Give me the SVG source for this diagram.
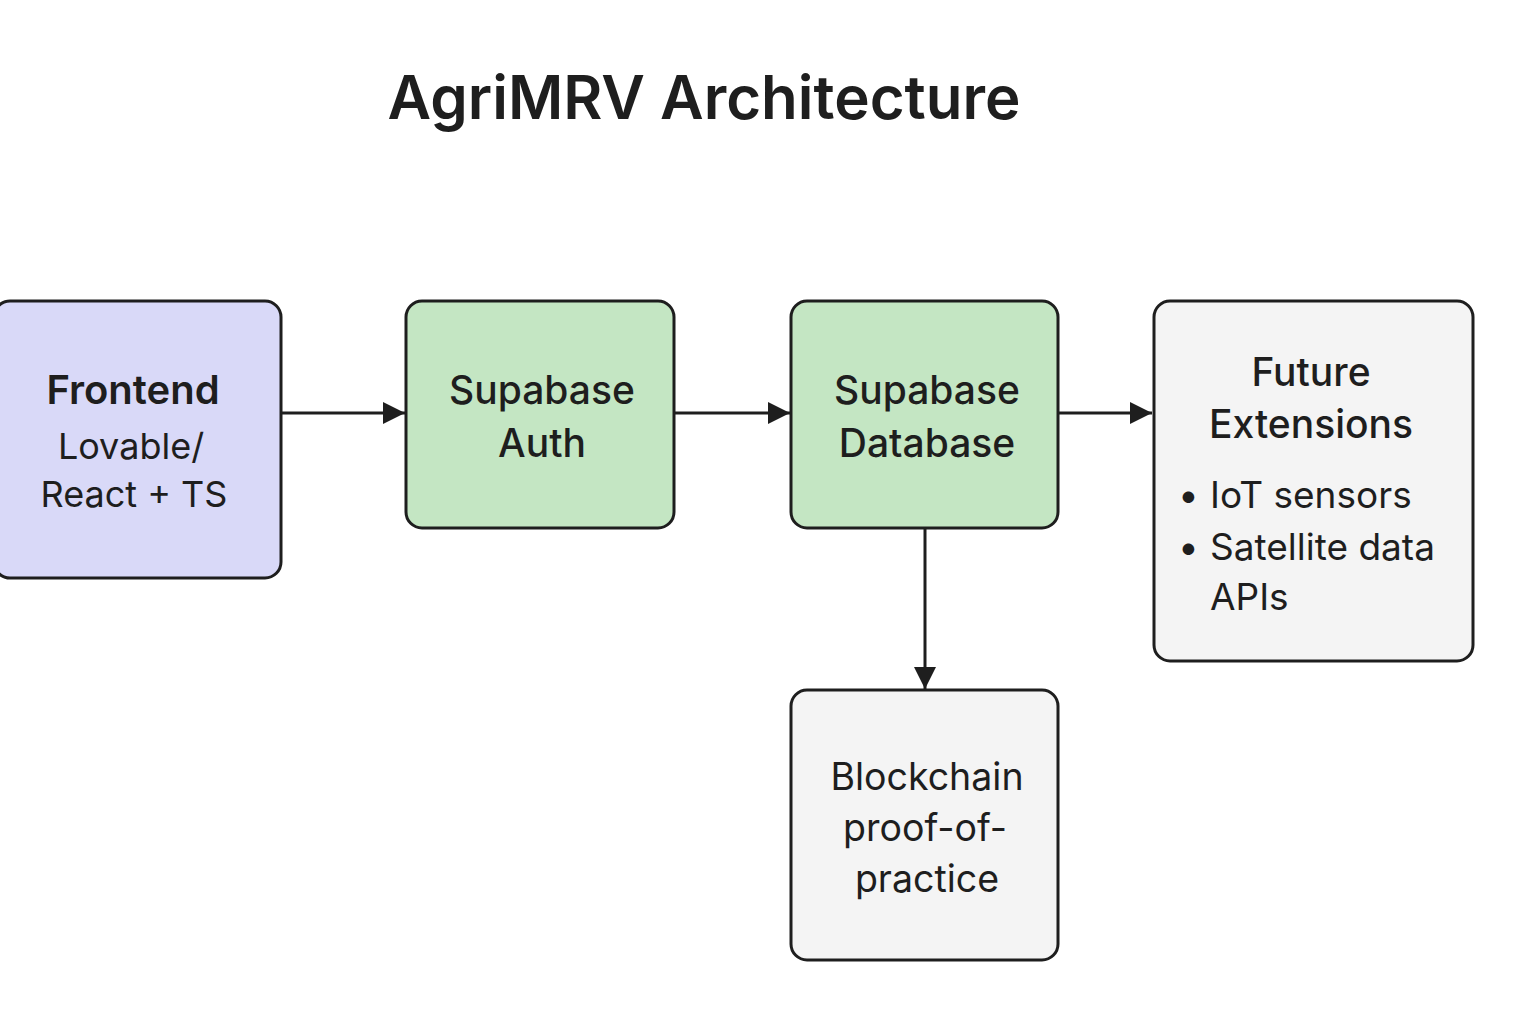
<svg xmlns="http://www.w3.org/2000/svg" width="1536" height="1024" viewBox="0 0 1536 1024">
<style>
.box{stroke:#1e1e1e;stroke-width:3}
.t{font-family:Inter,"Noto Sans","Liberation Sans",sans-serif;fill:#1e1e1e;text-anchor:middle}
.h{font-size:39px;font-weight:500}
.b{font-size:36px;font-weight:400}
.l{font-family:Inter,"Noto Sans","Liberation Sans",sans-serif;fill:#1e1e1e;font-size:37px}
.c{stroke:#1e1e1e;stroke-width:3;fill:none}
</style>
<defs>
<marker id="ah" viewBox="0 0 20 20" refX="20" refY="10" markerWidth="22" markerHeight="22" markerUnits="userSpaceOnUse" orient="auto">
<path d="M0,0 L20,10 L0,20 z" fill="#1e1e1e"/>
</marker>
</defs>
<rect width="1536" height="1024" fill="#ffffff"/>
<text x="704" y="119" class="t" style="font-size:60px;font-weight:600">AgriMRV Architecture</text>
<g id="connectors">
<line class="c" x1="282" y1="413" x2="405" y2="413" marker-end="url(#ah)"/>
<line class="c" x1="675" y1="413" x2="790" y2="413" marker-end="url(#ah)"/>
<line class="c" x1="1059" y1="413" x2="1152" y2="413" marker-end="url(#ah)"/>
<line class="c" x1="925" y1="529" x2="925" y2="689" marker-end="url(#ah)"/>
</g>
<g id="frontend">
<rect class="box" x="-6" y="301" width="287" height="277" rx="16" fill="#d9d9f8"/>
<text class="t" x="133" y="404" style="font-size:40px;font-weight:600">Frontend</text>
<text class="t b" x="131" y="459">Lovable/</text>
<text class="t b" x="134" y="507">React + TS</text>
</g>
<g id="auth">
<rect class="box" x="406" y="301" width="268" height="227" rx="16" fill="#c4e6c3"/>
<text class="t h" x="542" y="404">Supabase</text>
<text class="t h" x="542" y="457">Auth</text>
</g>
<g id="database">
<rect class="box" x="791" y="301" width="267" height="227" rx="16" fill="#c4e6c3"/>
<text class="t h" x="927" y="404">Supabase</text>
<text class="t h" x="927" y="457">Database</text>
</g>
<g id="future">
<rect class="box" x="1154" y="301" width="319" height="360" rx="16" fill="#f4f4f4"/>
<text class="t h" x="1311" y="386">Future</text>
<text class="t h" x="1311" y="438">Extensions</text>
<text class="l" x="1178" y="508">•</text>
<text class="l" x="1210" y="508">IoT sensors</text>
<text class="l" x="1178" y="560">•</text>
<text class="l" x="1210" y="560">Satellite data</text>
<text class="l" x="1210" y="610">APIs</text>
</g>
<g id="blockchain">
<rect class="box" x="791" y="690" width="267" height="270" rx="16" fill="#f4f4f4"/>
<text class="t" x="927" y="790" style="font-size:37.5px">Blockchain</text>
<text class="t" x="925" y="841" style="font-size:37.5px">proof-of-</text>
<text class="t" x="927" y="892" style="font-size:37.5px">practice</text>
</g>
</svg>
